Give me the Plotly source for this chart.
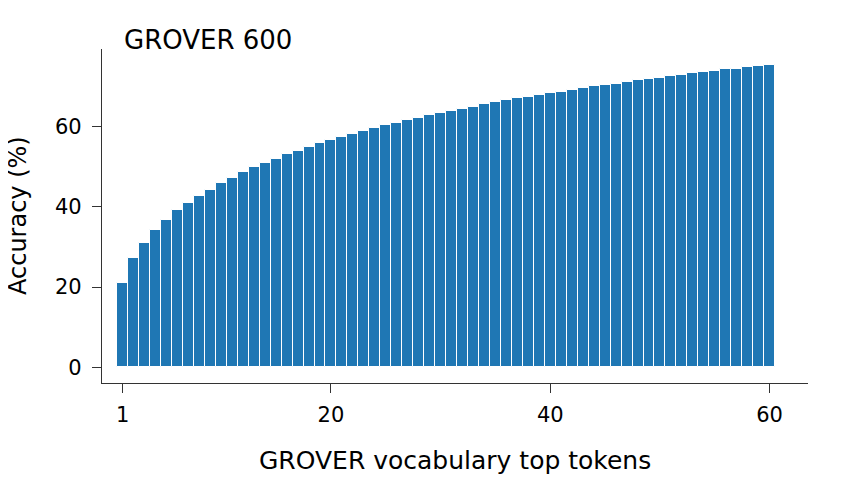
import plotly.graph_objects as go

# Top-k accuracy for GROVER 600 vocabulary
tokens = list(range(1, 61))
accuracy = [
    21.1, 27.3, 31.1, 34.2, 36.8, 39.1, 41.0, 42.7, 44.3, 45.9,
    47.2, 48.6, 49.8, 50.9, 51.9, 53.1, 54.0, 54.9, 55.8, 56.6,
    57.4, 58.1, 58.9, 59.6, 60.3, 60.9, 61.6, 62.2, 62.8, 63.3,
    63.8, 64.4, 64.9, 65.5, 66.0, 66.5, 67.0, 67.4, 67.9, 68.3,
    68.7, 69.2, 69.6, 70.0, 70.4, 70.7, 71.1, 71.5, 71.8, 72.2,
    72.5, 72.9, 73.2, 73.5, 73.9, 74.2, 74.4, 74.8, 75.1, 75.4,
]
x_ticks = [1, 20, 40, 60]
y_ticks = [0, 20, 40, 60]

FONT = "DejaVu Sans"

fig = go.Figure()
fig.add_trace(go.Bar(
    x=tokens, y=accuracy,
    marker=dict(color="#1f77b4", line=dict(color="white", width=1)),
))

# page body has an 8px default margin, so size is trimmed to fit
fig.update_layout(
    width=849, height=484,
    margin=dict(l=94, r=49, t=41, b=109),
    plot_bgcolor="white", paper_bgcolor="white",
    bargap=0,
    showlegend=False,
    font=dict(family=FONT, size=21, color="black"),
)
fig.update_xaxes(
    range=[-0.88, 63.5],
    tickvals=x_ticks,
    showline=True, linecolor="#333", linewidth=1.3,
    ticks="outside", ticklen=9, tickcolor="#333", tickwidth=1.3,
    showgrid=False, zeroline=False,
    ticklabelstandoff=4,
)
fig.update_yaxes(
    range=[-3.9, 79.3],
    tickvals=y_ticks,
    showline=True, linecolor="#333", linewidth=1.3,
    ticks="outside", ticklen=9, tickcolor="#333", tickwidth=1.3,
    showgrid=False, zeroline=False,
    ticklabelstandoff=6,
)

fig.add_annotation(
    text="GROVER 600", xref="paper", yref="paper", x=0.028, y=1.0,
    xanchor="left", yanchor="bottom", showarrow=False, yshift=-8,
    font=dict(family=FONT, size=26, color="black"),
)
fig.add_annotation(
    text="GROVER vocabulary top tokens", xref="paper", yref="paper",
    x=0.5, y=0, xanchor="center", yanchor="top", showarrow=False, yshift=-61,
    font=dict(family=FONT, size=25, color="black"),
)
fig.add_annotation(
    text="Accuracy (%)", xref="paper", yref="paper", textangle=-90,
    x=0, y=0.5, xanchor="center", yanchor="middle", showarrow=False, xshift=-84,
    font=dict(family=FONT, size=24, color="black"),
)

fig.write_html("out.html")
